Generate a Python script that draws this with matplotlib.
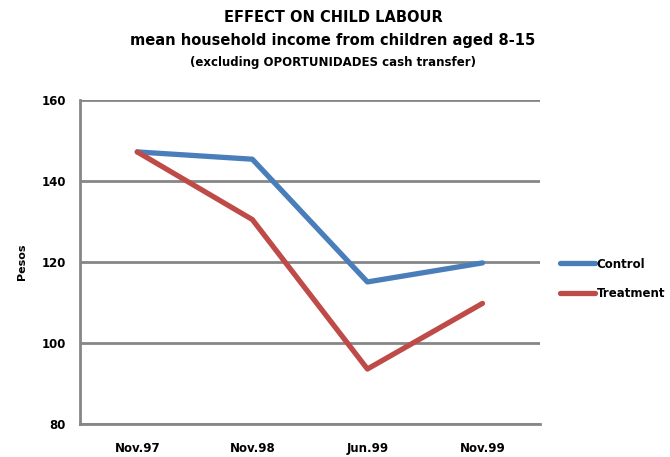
import matplotlib.pyplot as plt

rounds = ["Nov.97", "Nov.98", "Jun.99", "Nov.99"]
control = [147.2, 145.4, 115.1, 119.8]
treatment = [147.2, 130.5, 93.6, 109.8]
yticks = [80, 100, 120, 140, 160]

fig = plt.figure(figsize=(6.7, 4.57), dpi=100)
ax = fig.add_axes([0.119, 0.072, 0.687, 0.709])

x = list(range(len(rounds)))
ax.plot(x, control, color="#4A7EBB", lw=3.8, label="Control", solid_capstyle="round")
ax.plot(x, treatment, color="#BE4B48", lw=3.8, label="Treatment", solid_capstyle="round")

ax.set_xlim(-0.5, 3.5)
ax.set_ylim(80, 160)
ax.set_yticks(yticks)
ax.set_xticks(x)
ax.set_xticklabels(rounds, fontsize=8.5, fontweight="bold")
ax.set_yticklabels(yticks, fontsize=8.5, fontweight="bold")
ax.tick_params(length=0, axis="y", pad=10)
ax.tick_params(length=0, axis="x", pad=13)
ax.grid(axis="y", color="#868686", lw=2)
ax.set_axisbelow(True)
for s in ["top", "right"]:
    ax.spines[s].set_visible(False)
for s in ["left", "bottom"]:
    ax.spines[s].set_color("#868686")
    ax.spines[s].set_linewidth(2)

ax.set_ylabel("Pesos", fontsize=8, fontweight="bold", labelpad=10)

fig.text(0.497, 0.962, "EFFECT ON CHILD LABOUR", ha="center", va="center",
         fontsize=10.5, fontweight="bold")
fig.text(0.497, 0.912, "mean household income from children aged 8-15", ha="center",
         va="center", fontsize=10.5, fontweight="bold")
fig.text(0.497, 0.864, "(excluding OPORTUNIDADES cash transfer)", ha="center",
         va="center", fontsize=8.5, fontweight="bold")

fig.legend(loc="center left", bbox_to_anchor=(0.82, 0.39), frameon=False,
           prop={"size": 8.5, "weight": "bold"}, handlelength=3.0,
           handletextpad=0.1, labelspacing=1.4)

fig.savefig("out.png", dpi=100)
